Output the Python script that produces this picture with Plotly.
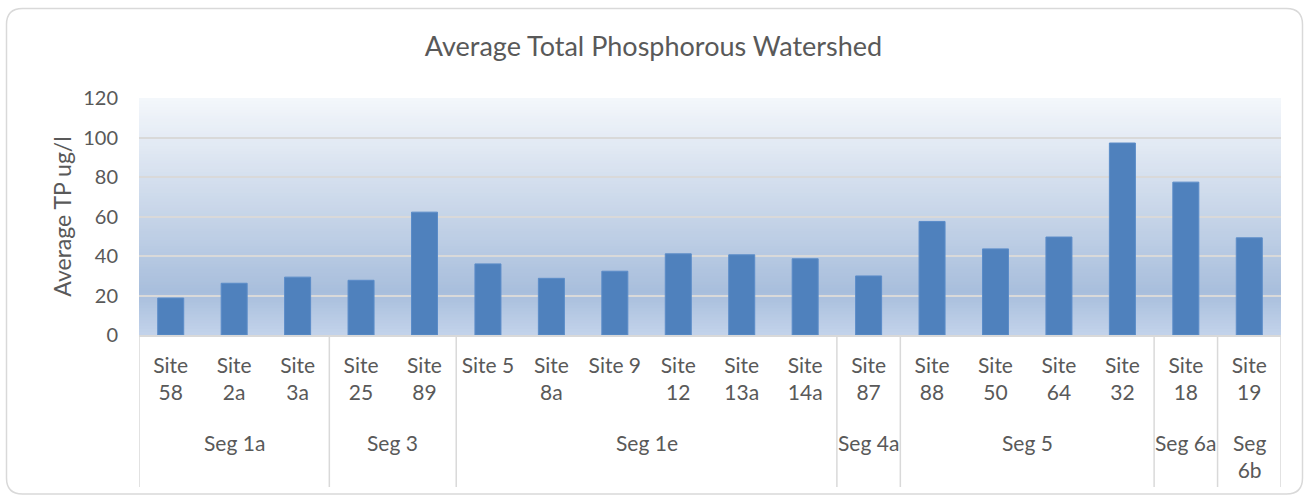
import plotly.graph_objects as go

sites = ["Site 58", "Site 2a", "Site 3a", "Site 25", "Site 89", "Site 5", "Site 8a", "Site 9",
         "Site 12", "Site 13a", "Site 14a", "Site 87", "Site 88", "Site 50", "Site 64", "Site 32",
         "Site 18", "Site 19"]
site_labels = ["Site<br>58", "Site<br>2a", "Site<br>3a", "Site<br>25", "Site<br>89", "Site 5",
               "Site<br>8a", "Site 9", "Site<br>12", "Site<br>13a", "Site<br>14a", "Site<br>87",
               "Site<br>88", "Site<br>50", "Site<br>64", "Site<br>32", "Site<br>18", "Site<br>19"]
tp_values = [18.7, 26.2, 29.3, 27.7, 62.2, 36.0, 28.7, 32.3, 41.1, 40.6, 38.6, 29.9,
             57.5, 43.6, 49.6, 97.2, 77.4, 49.2]
segments = ["Seg 1a", "Seg 3", "Seg 1e", "Seg 4a", "Seg 5", "Seg 6a", "Seg<br>6b"]
segment_sizes = [3, 2, 6, 1, 4, 1, 1]
y_ticks = [0, 20, 40, 60, 80, 100, 120]

FONT = "Lato, 'Open Sans', sans-serif"
GREY = "#595959"
LINE = "#D9D9D9"

fig = go.Figure()
fig.add_trace(go.Bar(
    x=list(range(len(sites))), y=tp_values,
    marker=dict(color="#4F81BD", line=dict(color="#5B8CC8", width=1)),
    hovertext=sites, name="Average TP",
))

W, H = 1307, 495
L, R, T, B = 139, 26, 98, 160
pw, ph = W - L - R, H - T - B

def px(xp):
    return (xp - L) / pw

def py(yp):
    return (H - B - yp) / ph

shapes = []
def lerp(c1, c2, t):
    return tuple(c1[i] + (c2[i] - c1[i]) * t for i in range(3))

top = (244, 247, 251)
mid = (168, 190, 220)
bot = (195, 211, 234)
n = 80
for i in range(n):
    f = (i + 0.5) / n  # 0 at top, 1 at bottom
    if f < 0.82:
        c = lerp(top, mid, f / 0.82)
    else:
        c = lerp(mid, bot, (f - 0.82) / 0.18)
    y1 = 1 - i / n
    shapes.append(dict(type="rect", xref="paper", yref="paper", x0=0, x1=1, y0=0, y1=y1,
                       fillcolor="rgb(%d,%d,%d)" % tuple(int(round(v)) for v in c),
                       line=dict(width=0), layer="below"))

bounds = [-0.5]
acc = -0.5
for s in segment_sizes:
    acc += s
    bounds.append(acc)
for b in bounds:
    shapes.append(dict(type="line", xref="x", yref="paper", x0=b, x1=b, y0=0, y1=py(487),
                       line=dict(color=LINE, width=1.5)))

x0b, x1b, y0b, y1b, r = px(6.5), px(1302.5), py(8.5), py(494), 16
rx, ry = r / pw, r / ph
path = (f"M {x0b+rx},{y0b} L {x1b-rx},{y0b} Q {x1b},{y0b} {x1b},{y0b-ry} "
        f"L {x1b},{y1b+ry} Q {x1b},{y1b} {x1b-rx},{y1b} L {x0b+rx},{y1b} "
        f"Q {x0b},{y1b} {x0b},{y1b+ry} L {x0b},{y0b-ry} Q {x0b},{y0b} {x0b+rx},{y0b} Z")
shapes.append(dict(type="path", xref="paper", yref="paper", path=path,
                   line=dict(color=LINE, width=1.5), layer="above"))

annotations = []
start = 0
for seg, s in zip(segments, segment_sizes):
    center = start + (s - 1) / 2
    annotations.append(dict(x=center, y=py(428), xref="x", yref="paper", text=seg,
                            showarrow=False, yanchor="top", xanchor="center",
                            font=dict(family=FONT, size=21, color=GREY)))
    start += s

fig.update_layout(
    width=W, height=H,
    margin=dict(l=L, r=R, t=T, b=B, autoexpand=False),
    paper_bgcolor="white", plot_bgcolor="rgba(0,0,0,0)",
    title=dict(text="Average Total Phosphorous Watershed", x=0.5, xref="container", xanchor="center",
               y=1 - 47 / H, yanchor="middle", yref="container",
               font=dict(family=FONT, size=27, color=GREY)),
    bargap=0.59,
    showlegend=False,
    shapes=shapes,
    annotations=annotations,
    font=dict(family=FONT, size=20, color=GREY),
)
fig.update_xaxes(
    range=[-0.5, len(sites) - 0.5],
    tickmode="array", tickvals=list(range(len(sites))), ticktext=site_labels,
    tickangle=0, showgrid=False, zeroline=False,
    showline=True, linecolor=LINE, linewidth=1.5,
    ticks="", tickfont=dict(family=FONT, size=21, color=GREY),
    ticklabelstandoff=11,
)
fig.update_yaxes(
    range=[0, 120], tickvals=y_ticks, showgrid=True, gridcolor=LINE, gridwidth=2,
    zeroline=False, showline=False, ticks="",
    tickfont=dict(family=FONT, size=20, color=GREY),
    ticklabelstandoff=20,
    title=dict(text="Average TP ug/l", font=dict(family=FONT, size=23, color=GREY), standoff=5),
)

fig.write_html("out.html", config={"displayModeBar": False},
               post_script="document.body.style.margin='0';")
